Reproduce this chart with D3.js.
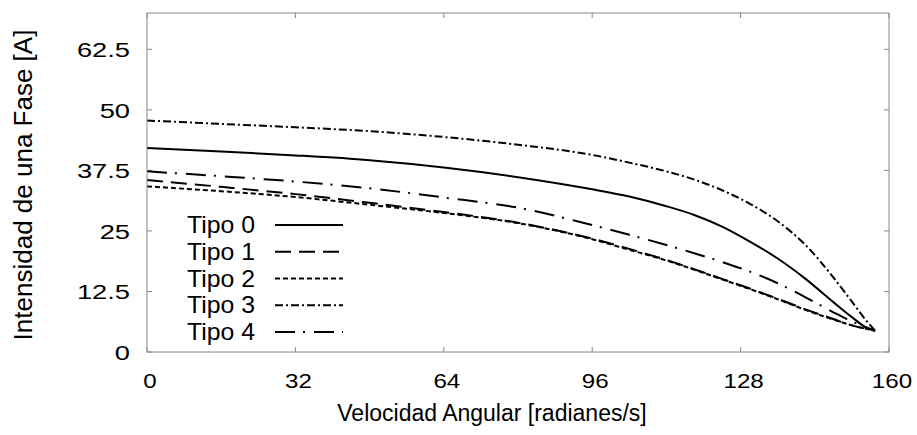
<!DOCTYPE html>
<html>
<head>
<meta charset="utf-8">
<script src="https://cdn.jsdelivr.net/npm/d3@7"></script>
<style>
  body { margin: 0; background: #fff; }
  text { font-family: "Liberation Sans", Arial, sans-serif; fill: #000; }
</style>
</head>
<body>
<div id="container"></div>
<script>
const WIDTH = 917;
const HEIGHT = 435;
const MARGIN = { TOP: 13, BOTTOM: 83, LEFT: 147, RIGHT: 28 };

const width = WIDTH - MARGIN.LEFT - MARGIN.RIGHT;
const height = HEIGHT - MARGIN.TOP - MARGIN.BOTTOM;

// velocidad angular (rad/s)
const velocidad = [0, 16, 32, 48, 64, 80, 96, 104, 112, 118, 124, 130, 136, 142, 148, 152, 155, 157];

// corriente de fase (A) por tipo
const tipo0 = [42.1, 41.4, 40.6, 39.6, 38.1, 36.1, 33.6, 32.1, 30.1, 28.3, 25.9, 22.8, 19.3, 15.1, 10.3, 7.2, 5.1, 4.4];
const tipo1 = [35.5, 34.1, 32.6, 30.8, 28.9, 26.7, 23.4, 21.3, 19.0, 17.1, 15.1, 13.1, 11.0, 8.8, 6.8, 5.5, 4.8, 4.4];
const tipo2 = [34.2, 33.2, 32.0, 30.4, 28.7, 26.6, 23.3, 21.1, 18.9, 17.0, 15.0, 13.0, 10.9, 8.7, 6.7, 5.5, 4.8, 4.4];
const tipo3 = [47.8, 47.1, 46.4, 45.6, 44.4, 42.8, 40.7, 39.1, 37.3, 35.6, 33.4, 30.6, 27.0, 22.1, 15.4, 10.4, 6.6, 4.4];
const tipo4 = [37.3, 36.3, 35.2, 33.8, 31.9, 29.8, 26.2, 24.2, 22.1, 20.4, 18.6, 16.6, 14.2, 11.3, 8.2, 6.3, 5.1, 4.4];

const nombres = ['Tipo 0', 'Tipo 1', 'Tipo 2', 'Tipo 3', 'Tipo 4'];
const dashes = [null, '16,8', '5,3', '8,3,2,3', '20,8,2,9'];

const xTicks = [0, 32, 64, 96, 128, 160];
const yTicks = [0, 12.5, 25, 37.5, 50, 62.5];

const series = [tipo0, tipo1, tipo2, tipo3, tipo4].map((vals, i) => ({
  name: nombres[i],
  dash: dashes[i],
  points: vals.map((v, j) => ({ x: velocidad[j], y: v }))
}));

const svg = d3.select('#container')
  .append('svg')
    .attr('width', WIDTH)
    .attr('height', HEIGHT);

const container = svg.append('g')
    .attr('transform', `translate(${MARGIN.LEFT}, ${MARGIN.TOP})`);

const x = d3.scaleLinear().domain([0, 160]).range([0, width]);
const y = d3.scaleLinear().domain([0, 70]).range([height, 0]);

// ticks hacia dentro en los cuatro lados
const tickColor = '#888';
const tickLen = 5;

container.selectAll('.xtick')
  .data(xTicks)
  .enter()
  .append('g')
  .each(function(d) {
    const g = d3.select(this);
    g.append('line').attr('x1', x(d)).attr('x2', x(d)).attr('y1', height).attr('y2', height - tickLen);
    g.append('line').attr('x1', x(d)).attr('x2', x(d)).attr('y1', 0).attr('y2', tickLen);
  })
  .selectAll('line')
  .attr('stroke', tickColor)
  .attr('stroke-width', 1);

container.selectAll('.ytick')
  .data(yTicks)
  .enter()
  .append('g')
  .each(function(d) {
    const g = d3.select(this);
    g.append('line').attr('x1', 0).attr('x2', tickLen).attr('y1', y(d)).attr('y2', y(d));
    g.append('line').attr('x1', width).attr('x2', width - tickLen).attr('y1', y(d)).attr('y2', y(d));
  })
  .selectAll('line')
  .attr('stroke', tickColor)
  .attr('stroke-width', 1);

// etiquetas de los ejes
container.selectAll('.xlabel')
  .data(xTicks)
  .enter()
  .append('text')
  .attr('transform', d => `translate(${x(d) + 3}, ${height + 36}) scale(1.15, 1)`)
  .attr('text-anchor', 'middle')
  .attr('font-size', 21)
  .text(d => d);

container.selectAll('.ylabel')
  .data(yTicks)
  .enter()
  .append('text')
  .attr('transform', d => `translate(-17, ${y(d) + 8}) scale(1.3, 1)`)
  .attr('text-anchor', 'end')
  .attr('font-size', 21)
  .text(d => d);

const line = d3.line()
  .x(d => x(d.x))
  .y(d => y(d.y))
  .curve(d3.curveMonotoneX);

container.selectAll('.serie')
  .data(series)
  .enter()
  .append('path')
  .attr('class', 'serie')
  .attr('d', d => line(d.points))
  .attr('fill', 'none')
  .attr('stroke', '#000')
  .attr('stroke-width', 2)
  .attr('stroke-dasharray', d => d.dash);

// marco
container.append('rect')
  .attr('x', 0)
  .attr('y', 0)
  .attr('width', width)
  .attr('height', height)
  .attr('fill', 'none')
  .attr('stroke', tickColor)
  .attr('stroke-width', 1);

// leyenda
const legend = svg.selectAll('.leg')
  .data(series)
  .enter()
  .append('g')
  .attr('transform', (d, i) => `translate(187, ${233 + i * 26.75})`);

legend.append('text')
  .attr('transform', 'scale(1.08, 1)')
  .attr('font-size', 23)
  .text(d => d.name);

legend.append('line')
  .attr('x1', 88)
  .attr('x2', 156)
  .attr('y1', -8)
  .attr('y2', -8)
  .attr('stroke', '#000')
  .attr('stroke-width', 2)
  .attr('stroke-dasharray', d => d.dash);

// títulos
svg.append('text')
  .attr('x', 492)
  .attr('y', 421)
  .attr('text-anchor', 'middle')
  .attr('font-size', 23)
  .text('Velocidad Angular [radianes/s]');

svg.append('text')
  .attr('transform', 'translate(32, 185) rotate(-90)')
  .attr('text-anchor', 'middle')
  .attr('font-size', 26)
  .text('Intensidad de una Fase [A]');
</script>
</body>
</html>
